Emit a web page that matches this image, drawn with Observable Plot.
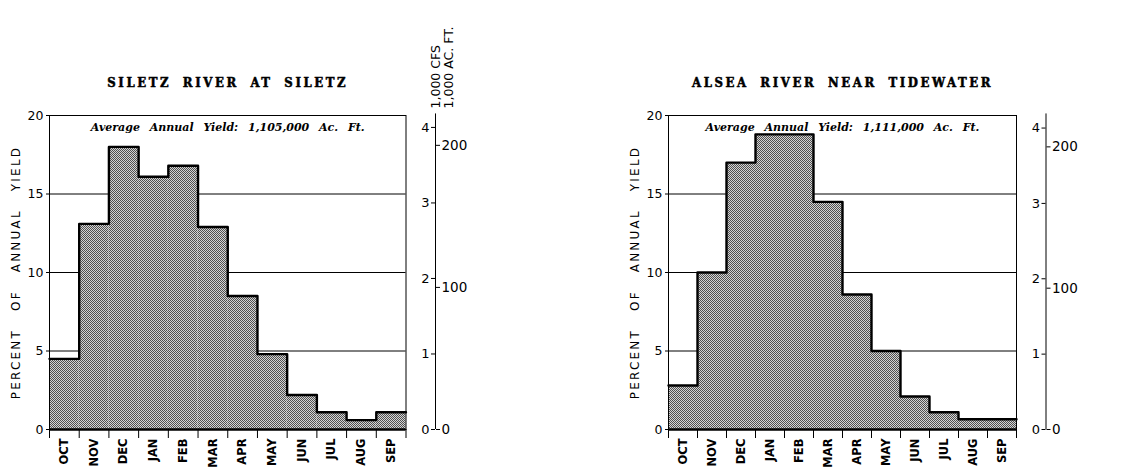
<!DOCTYPE html>
<html><head><meta charset="utf-8">
<script src="https://cdn.jsdelivr.net/npm/d3@7"></script>
<script src="https://cdn.jsdelivr.net/npm/@observablehq/plot@0.6"></script>
<style>
body{margin:0;background:#fff;}
#wrap{display:flex;width:1136px;height:469px;overflow:hidden;}
.title text{font-family:"DejaVu Serif Condensed","DejaVu Serif";font-weight:bold;font-size:13px;letter-spacing:2.6px;word-spacing:5px;stroke:#000;stroke-width:0.5px;}
.annot text{font-family:"DejaVu Serif";font-style:italic;font-weight:bold;font-size:11px;word-spacing:6px;}
.ylab text{font-family:"DejaVu Sans";font-size:12px;letter-spacing:2.2px;word-spacing:12px;}
.mon text{font-weight:bold;}
</style></head><body><div id="wrap"></div>
<script>
const months = ["OCT","NOV","DEC","JAN","FEB","MAR","APR","MAY","JUN","JUL","AUG","SEP"];
const siletzPct = [4.5, 13.1, 18.0, 16.1, 16.8, 12.9, 8.5, 4.8, 2.2, 1.1, 0.6, 1.1];
const alseaPct  = [2.8, 10.0, 17.0, 18.8, 18.8, 14.5, 8.6, 5.0, 2.1, 1.1, 0.65, 0.65];
const titles = ["SILETZ RIVER AT SILETZ", "ALSEA RIVER NEAR TIDEWATER"];
const annualYield = [1105000, 1111000];
const yieldLabels = ["Average Annual Yield: 1,105,000 Ac. Ft.", "Average Annual Yield: 1,111,000 Ac. Ft."];
const percentTicks = [0, 5, 10, 15, 20];
const gridTicks = [5, 10, 15];
const cfsTicks = [0, 1, 2, 3, 4];
const acftTicks = [0, 100, 200];
const pctPerThousandCfs = [4.81, 4.80];
const unitLabels = ["1,000 CFS", "1,000 AC. FT."];

function chart(k, values, layout) {
  const {width, marginLeft, marginRight, showUnits} = layout;
  const frameW = width - marginLeft - marginRight;
  const off = 29.5;
  const annual = annualYield[k];
  const f = pctPerThousandCfs[k];
  const bars = values.map((v, i) => ({x1: i, x2: i + 1, v}));
  const steps = values.map((v, i) => ({x: i, v})).concat([{x: values.length, v: values[values.length - 1]}]);
  const marks = [
    Plot.ruleY(gridTicks, {stroke: "#000", strokeWidth: 1}),
    Plot.rect(bars, {x1: "x1", x2: "x2", y1: 0, y2: "v", fill: `url(#stip${k})`}),
    Plot.line(steps, {x: "x", y: "v", curve: "step-after", stroke: "#000", strokeWidth: 2.4}),
    Plot.frame({stroke: "#000", strokeWidth: 1}),
    Plot.ruleY([0], {stroke: "#000", strokeWidth: 2.5}),
    Plot.axisY(percentTicks, {tickSize: 3, tickPadding: 3, label: null, fontSize: 12.5}),
    Plot.axisX(d3.range(months.length + 1), {tickSize: 9, tickFormat: () => "", label: null}),
    Plot.axisX(months.map((m, i) => i + 0.5), {tickSize: 0, tickPadding: 9, tickRotate: -90, tickFormat: d => months[Math.floor(d)], label: null, fontSize: 11.5, className: "mon"}),
    Plot.ruleX([months.length], {y1: 0, y2: 20.1, dx: off, stroke: "#000"}),
    Plot.axisY(cfsTicks.map(c => c * f), {anchor: "left", dx: frameW + off, tickSize: 4, tickPadding: 2, tickFormat: d => Math.round(d / f), label: null, fontSize: 13}),
    Plot.axisY(acftTicks.map(a => a * 1000 / annual * 100), {anchor: "right", dx: off, tickSize: 4, tickPadding: 2, tickFormat: d => Math.round(d * annual / 100 / 1000), label: null, fontSize: 13.5}),
    Plot.text([titles[k]], {text: d => d, frameAnchor: "top", dy: -29, lineAnchor: "bottom", className: "title"}),
    Plot.text([yieldLabels[k]], {text: d => d, frameAnchor: "top", dy: 15, lineAnchor: "bottom", className: "annot"}),
    Plot.text(["PERCENT OF ANNUAL YIELD"], {text: d => d, frameAnchor: "left", textAnchor: "middle", rotate: -90, dx: -33, className: "ylab"})
  ];
  if (showUnits) {
    marks.push(Plot.text([unitLabels[0]], {text: d => d, frameAnchor: "top-right", rotate: -90, textAnchor: "start", lineAnchor: "bottom", dx: off + 4, dy: -7, fontSize: 12.5}));
    marks.push(Plot.text([unitLabels[1]], {text: d => d, frameAnchor: "top-right", rotate: -90, textAnchor: "start", lineAnchor: "bottom", dx: off + 17, dy: -7, fontSize: 12.5}));
  }
  const svg = Plot.plot({
    width, height: 469,
    marginLeft, marginRight, marginTop: 115, marginBottom: 40,
    x: {domain: [0, months.length]},
    y: {domain: [0, 20]},
    style: {fontFamily: "DejaVu Sans", fontSize: "12px", background: "#fff", color: "#000", overflow: "visible"},
    marks
  });
  const defs = d3.select(svg).insert("defs", ":first-child");
  const p = defs.append("pattern").attr("id", `stip${k}`).attr("width", 2).attr("height", 2).attr("patternUnits", "userSpaceOnUse");
  p.append("rect").attr("width", 2).attr("height", 2).attr("fill", "#d4d4d4");
  p.append("rect").attr("width", 1).attr("height", 1).attr("fill", "#505050");
  p.append("rect").attr("x", 1).attr("y", 1).attr("width", 1).attr("height", 1).attr("fill", "#505050");
  return svg;
}

const wrap = document.getElementById("wrap");
wrap.appendChild(chart(0, siletzPct, {width: 568, marginLeft: 49, marginRight: 162.5, showUnits: true}));
wrap.appendChild(chart(1, alseaPct, {width: 568, marginLeft: 100, marginRight: 120, showUnits: false}));
</script></body></html>
